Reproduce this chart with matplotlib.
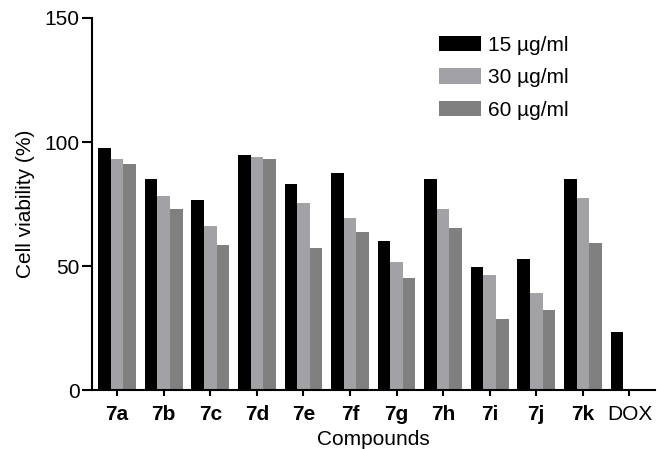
import matplotlib.pyplot as plt
import numpy as np

plt.rcParams['font.family'] = ['Liberation Sans', 'DejaVu Sans']

compounds = ['7a', '7b', '7c', '7d', '7e', '7f', '7g', '7h', '7i', '7j', '7k', 'DOX']
conc_15 = [97.7, 85.0, 76.6, 94.8, 82.9, 87.4, 60.2, 85.0, 49.7, 52.7, 85.0, 23.4]
conc_30 = [93.1, 78.2, 66.1, 94.1, 75.3, 69.2, 51.7, 73.1, 46.5, 39.1, 77.6, 0]
conc_60 = [91.0, 73.1, 58.7, 93.1, 57.1, 63.8, 45.3, 65.5, 28.6, 32.3, 59.4, 0]
labels = ['15 µg/ml', '30 µg/ml', '60 µg/ml']
colors = ['#000000', '#a2a2a6', '#808080']

fig = plt.figure(figsize=(6.57, 4.49), dpi=100)
ax = fig.add_axes([0.140, 0.131, 0.857, 0.829])

x = np.arange(len(compounds))
w = 0.27
for i, (vals, lab, col) in enumerate(zip([conc_15, conc_30, conc_60], labels, colors)):
    ax.bar(x + (i - 1) * w, vals, width=w, color=col, label=lab, linewidth=0)

ax.set_xlim(-0.54, 11.55)
ax.set_ylim(0, 150)
ax.set_yticks([0, 50, 100, 150])
ax.set_xticks(x)
ax.set_xticklabels(compounds, fontsize=15)
for t in ax.get_xticklabels():
    if t.get_text() != 'DOX':
        t.set_fontweight('bold')
ax.tick_params(axis='y', labelsize=15, length=7, width=1.5, direction='out', pad=2)
ax.tick_params(axis='x', length=4, width=1.5, direction='out', pad=7)
for s in ['top', 'right']:
    ax.spines[s].set_visible(False)
for s in ['left', 'bottom']:
    ax.spines[s].set_linewidth(1.5)

ax.set_xlabel('Compounds', fontsize=15, labelpad=4)
ax.set_ylabel('Cell viability (%)', fontsize=15, labelpad=7)

ax.legend(loc='upper left', bbox_to_anchor=(0.602, 0.975), frameon=False, fontsize=15,
          handlelength=2.0, handleheight=0.77, labelspacing=0.65, handletextpad=0.35,
          borderaxespad=0)

fig.savefig('out.png', dpi=100)
